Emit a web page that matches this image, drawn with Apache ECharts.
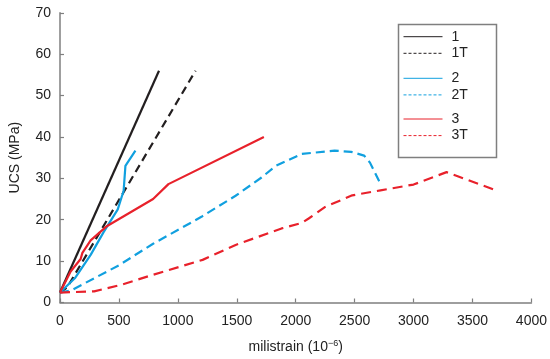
<!DOCTYPE html>
<html><head><meta charset="utf-8">
<script src="https://cdn.jsdelivr.net/npm/echarts@6/dist/echarts.min.js"></script>
<style>html,body{margin:0;padding:0;background:#fff}#c{width:550px;height:359px}</style>
</head><body><div id="c"></div>
<script>
// Data (strain in 10^-6, UCS in MPa)
const s1  = [[0,2.4],[840,56]];
const s1T = [[0,2.4],[60,3.6],[1150,56]];
const s2  = [[0,2.4],[130,6],[260,11.5],[370,17],[490,22.5],[540,27],[555,33],[640,36.7]];
const s2T = [[0,2.4],[100,3],[500,9],[790,14.2],[1200,20.7],[1490,25.8],[1710,30.2],[1830,33],[2050,35.9],[2330,36.7],[2470,36.4],[2580,35.5],[2630,33.8],[2720,28.6]];
const s3  = [[0,2.4],[90,7.5],[175,10.5],[190,12],[260,15],[400,18.5],[790,25],[920,28.6],[1730,40]];
const s3T = [[0,2.4],[290,2.7],[510,4.2],[790,6.7],[1210,10.3],[1490,13.9],[1880,17.9],[2050,19.2],[2110,20.3],[2250,23.1],[2480,25.9],[2720,27.1],[3000,28.5],[3280,31.5],[3700,27.1]];
const seriesNames = ['1','1T','2','2T','3','3T'];
const xTicks = [0,500,1000,1500,2000,2500,3000,3500,4000];
const yTicks = [0,10,20,30,40,50,60,70];

const BLACK='#231f20', BLUE='#11a0df', RED='#e8212b';
const font = 'Arial, "Liberation Sans", sans-serif';
function ser(name, data, color, dash){
  return {name, type:'line', data, symbol:'none', animation:false,
    lineStyle:{color, width:2.2, type: dash || 'solid'}, itemStyle:{color}};
}
function leg(a, b, top){
  return {orient:'vertical', left:403, top, padding:0,
    data:[{name:a, lineStyle:{width:1, type:'solid'}}, {name:b, lineStyle:{width:1, type:[3,2]}}],
    itemWidth:39, itemHeight:14, itemGap:2.6,
    lineStyle:{width:1}, itemStyle:{opacity:0},
    textStyle:{fontSize:14, color:'#222', fontFamily:font, lineHeight:14, padding:[0,0,0,4]},
    selectedMode:false};
}
const chart = echarts.init(document.getElementById('c'));
chart.setOption({
  animation:false,
  grid:{left:56, right:18, top:12.8, bottom:54.6, containLabel:false},
  xAxis:{type:'value', min:0, max:4000, interval:500,
    name:'milistrain (10{sup|−6})', nameLocation:'middle', nameGap:37,
    nameTextStyle:{fontSize:14, color:'#222', fontFamily:font, rich:{sup:{fontSize:9, verticalAlign:'top', padding:[0,0,6,0], color:'#222'}}},
    axisLine:{lineStyle:{color:'#7f7f7f', width:1.5}},
    axisTick:{inside:true, length:4, lineStyle:{color:'#7f7f7f', width:1.2}},
    axisLabel:{fontSize:14, color:'#222', fontFamily:font, margin:12, formatter:v=>xTicks.includes(v)?String(v):''},
    splitLine:{show:false}},
  yAxis:{type:'value', min:0, max:70, interval:10,
    name:'UCS (MPa)', nameLocation:'middle', nameGap:38, nameRotate:90,
    nameTextStyle:{fontSize:14, color:'#222', fontFamily:font},
    axisLine:{show:true, lineStyle:{color:'#7f7f7f', width:1.5}},
    axisTick:{show:true, inside:true, length:4, lineStyle:{color:'#7f7f7f', width:1.2}},
    axisLabel:{fontSize:14, color:'#222', fontFamily:font, margin:9, formatter:v=>yTicks.includes(v)?String(v):''},
    splitLine:{show:false}},
  legend:[leg(seriesNames[0],seriesNames[1],29.7), leg(seriesNames[2],seriesNames[3],71.3), leg(seriesNames[4],seriesNames[5],112)],
  graphic:[{type:'rect', left:396, top:22, shape:{width:98, height:133}, style:{fill:'none', stroke:'#7f7f7f', lineWidth:1.5}, z:100}],
  series:[
    ser(seriesNames[0], s1, BLACK),
    ser(seriesNames[1], s1T, BLACK, [8,5]),
    ser(seriesNames[2], s2, BLUE),
    ser(seriesNames[3], s2T, BLUE, [9,5]),
    ser(seriesNames[4], s3, RED),
    ser(seriesNames[5], s3T, RED, [10,6])
  ]
});
</script></body></html>
